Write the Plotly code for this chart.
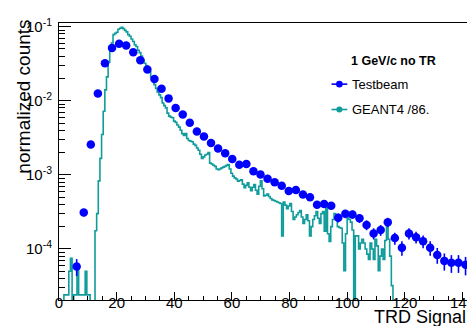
import plotly.graph_objects as go

# ---------------- data ----------------
# Testbeam points (bin centres, normalized counts, errors)
tb_x = [6.13, 8.59, 11.04, 13.49, 15.95, 18.40, 20.85, 23.30, 25.76, 28.21,
        30.66, 33.12, 35.57, 38.02, 40.47, 42.93, 45.38, 47.83, 50.29, 52.74,
        55.19, 57.65, 60.10, 62.55, 65.00, 67.46, 69.91, 72.36, 74.82, 77.27,
        79.72, 82.18, 84.63, 87.08, 89.53, 91.99, 94.44, 96.89, 99.35, 101.80,
        104.25, 106.71, 109.16, 111.61, 114.06, 116.52, 118.97, 121.42, 123.88, 126.33,
        128.78, 131.24, 133.69, 136.14, 138.60, 141.05]
tb_y = [5.8e-5, 3.1e-4, 2.56e-3, 0.0125, 0.032, 0.0514, 0.0587, 0.0557, 0.0451, 0.0351,
        0.0264, 0.0197, 0.01456, 0.01076, 8.0e-3, 6.5e-3, 5.04e-3, 3.84e-3, 3.3e-3, 2.69e-3,
        2.26e-3, 1.95e-3, 1.64e-3, 1.37e-3, 1.40e-3, 1.12e-3, 1.01e-3, 8.86e-4, 7.94e-4, 7.1e-4,
        6.05e-4, 6.24e-4, 5.41e-4, 4.97e-4, 3.96e-4, 4.03e-4, 3.84e-4, 2.64e-4, 2.98e-4, 2.92e-4,
        2.59e-4, 2.11e-4, 1.62e-4, 1.80e-4, 2.30e-4, 1.40e-4, 1.04e-4, 1.62e-4, 1.44e-4, 1.27e-4,
        1.04e-4, 8.3e-5, 6.9e-5, 6.5e-5, 6.5e-5, 6.1e-5]
tb_err = [1.5e-5, 3.5e-5, 1.0e-4, 2.5e-4, 4.0e-4, 5.0e-4, 5.4e-4, 5.2e-4, 4.7e-4, 4.2e-4,
          3.6e-4, 3.1e-4, 2.7e-4, 2.3e-4, 2.0e-4, 1.8e-4, 1.6e-4, 1.4e-4, 1.3e-4, 1.15e-4,
          1.05e-4, 9.8e-5, 9.0e-5, 8.2e-5, 8.3e-5, 7.4e-5, 7.0e-5, 6.6e-5, 6.2e-5, 5.9e-5,
          5.4e-5, 5.5e-5, 5.1e-5, 4.9e-5, 4.4e-5, 4.4e-5, 4.3e-5, 3.6e-5, 3.8e-5, 3.7e-5,
          3.5e-5, 3.2e-5, 2.8e-5, 3.0e-5, 3.3e-5, 2.6e-5, 2.3e-5, 2.8e-5, 2.6e-5, 2.5e-5,
          2.3e-5, 2.0e-5, 1.8e-5, 1.75e-5, 1.75e-5, 1.7e-5]

# GEANT4 histogram (scaled /86), fixed-width bins starting at 0
g4_bin_width = 0.568
g4_counts = [
    0, 0, 0, 2.4e-5, 2.4e-5, 2.4e-5, 5e-5, 7.5e-5, 0, 2.4e-5,
    2.4e-5, 6e-5, 2.4e-5, 2.4e-5, 2.4e-5, 2.4e-5, 5e-5, 2.4e-5, 2.4e-5, 0,
    0, 0, 1.76e-4, 3.0e-4, 8.3e-4, 1.67e-3, 3.5e-3, 7.2e-3, 0.014, 0.021,
    0.033, 0.047, 0.060, 0.078, 0.081, 0.084, 0.092, 0.095, 0.098, 0.094,
    0.089, 0.085, 0.078, 0.074, 0.068, 0.063, 0.057, 0.054, 0.048, 0.0446,
    0.040, 0.036, 0.032, 0.0298, 0.027, 0.0244, 0.021, 0.019, 0.0165, 0.0147,
    0.013, 0.012, 0.011, 9.3e-3, 8.6e-3, 8.0e-3, 6.8e-3, 6.2e-3, 6.0e-3, 5.9e-3,
    5.3e-3, 5.1e-3, 4.7e-3, 4.4e-3, 4.0e-3, 3.6e-3, 3.4e-3, 3.6e-3, 3.1e-3, 2.9e-3,
    2.85e-3, 2.8e-3, 2.6e-3, 2.5e-3, 2.3e-3, 2.15e-3, 1.9e-3, 1.66e-3, 1.75e-3, 1.85e-3,
    1.9e-3, 2.0e-3, 1.44e-3, 1.4e-3, 1.35e-3, 1.3e-3, 1.2e-3, 1.17e-3, 1.2e-3, 1.24e-3,
    1.27e-3, 1.3e-3, 1.34e-3, 1.38e-3, 1.2e-3, 1.05e-3, 9.6e-4, 9.1e-4, 8.8e-4, 8.2e-4,
    8.4e-4, 8.6e-4, 7.5e-4, 6.7e-4, 7.2e-4, 7.8e-4, 6.8e-4, 6.1e-4, 6.8e-4, 7.4e-4,
    6.2e-4, 5.5e-4, 7.0e-4, 8.3e-4, 6.5e-4, 5.2e-4, 5.3e-4, 5.5e-4, 5.1e-4, 4.8e-4,
    4.6e-4, 4.5e-4, 4.4e-4, 4.3e-4, 4.2e-4, 4.1e-4, 1.5e-4, 4.3e-4, 3.9e-4, 3.5e-4,
    3.8e-4, 4.1e-4, 3.2e-4, 2.5e-4, 2.7e-4, 2.9e-4, 3.1e-4, 3.3e-4, 2.7e-4, 2.2e-4,
    2.5e-4, 2.9e-4, 2.4e-4, 1.5e-4, 2.0e-4, 2.5e-4, 2.8e-4, 3.2e-4, 2.6e-4, 2.2e-4,
    3.0e-4, 3.2e-4, 1.74e-4, 3.7e-4, 1.6e-4, 1.26e-4, 2.0e-4, 2.5e-4, 3.0e-4, 2.6e-4,
    2.0e-4, 1.95e-4, 1.9e-4, 1.2e-4, 5.1e-5, 1.6e-4, 2.7e-4, 2.5e-4, 2.3e-4, 1.8e-4,
    0, 1.5e-4, 1.5e-4, 1.0e-4, 1.2e-4, 1.35e-4, 1.2e-4, 1.0e-4, 8.5e-5, 7.2e-5,
    1.2e-4, 1.0e-4, 7.2e-5, 1.35e-4, 1.1e-4, 5.1e-5, 8e-5, 1.0e-4, 7.2e-5, 1.3e-4,
    2.1e-4, 1.35e-4, 8e-5, 3.2e-5, 0,
]

x_ticks = [0, 20, 40, 60, 80, 100, 120, 140]
y_ticks = [1e-4, 1e-3, 1e-2, 1e-1]
y_ticktext = ["10<sup>-4</sup>", "10<sup>-3</sup>", "10<sup>-2</sup>", "10<sup>-1</sup>"]

# ---------------- styling ----------------
BLUE = "#0000ff"
TEAL = "#119c9c"
FONT = "Liberation Sans"
EMPTY = 1e-7  # stand-in for empty bins on the log axis (drawn below the frame)

W, H = 475, 326
L, R, T, B = 51, 9, 8, 34
PW, PH = W - L - R, H - T - B


def px(xp):
    return (xp - L) / PW


def py(yp):
    return (H - B - yp) / PH


g4_edges = [i * g4_bin_width for i in range(len(g4_counts) + 1)]
g4_plot = [v if v > 0 else EMPTY for v in g4_counts] + [EMPTY]

fig = go.Figure()
fig.add_trace(go.Scatter(
    x=g4_edges, y=g4_plot, mode="lines", line=dict(color=TEAL, width=1.6, shape="hv"),
    showlegend=False, hoverinfo="skip"))
fig.add_trace(go.Scatter(
    x=tb_x, y=tb_y, mode="markers",
    marker=dict(color=BLUE, size=8.5, line=dict(width=0)),
    error_y=dict(type="data", array=tb_err, color=BLUE, thickness=1.6, width=0),
    showlegend=False))

minor_y = [k * 10 ** d for d in range(-5, 0) for k in range(2, 10)]

fig.update_xaxes(
    range=[0, 141.9], tickvals=x_ticks, ticks="inside", ticklen=8, tickwidth=1,
    tickcolor="black", showline=True, linecolor="black", linewidth=1, mirror=True,
    showgrid=False, zeroline=False, ticklabelstandoff=-11,
    tickfont=dict(family=FONT, size=15, color="black"),
    minor=dict(dtick=5, tick0=0, ticks="inside", ticklen=4.5, tickcolor="black", showgrid=False))
fig.update_yaxes(
    type="log", range=[-4.689, -0.951], tickvals=y_ticks, ticktext=y_ticktext,
    ticks="inside", ticklen=12, tickwidth=1, tickcolor="black",
    showline=True, linecolor="black", linewidth=1, mirror=True,
    showgrid=False, zeroline=False, ticklabelstandoff=3,
    tickfont=dict(family=FONT, size=15, color="black"),
    minor=dict(tickvals=minor_y, ticks="inside", ticklen=6, tickcolor="black", showgrid=False))

annotations = [
    dict(text="TRD Signal", xref="paper", yref="paper", x=1.0, y=py(309), xanchor="right",
         yanchor="middle", showarrow=False, font=dict(family=FONT, size=18, color="black")),
    dict(text="normalized counts", xref="paper", yref="paper", x=px(15), y=py(3),
         xanchor="center", yanchor="top", textangle=-90, showarrow=False,
         font=dict(family=FONT, size=19, color="black")),
    dict(text="<b>1 GeV/c no TR</b>", xref="paper", yref="paper", x=px(390), y=py(46.5),
         xanchor="center", yanchor="middle", showarrow=False,
         font=dict(family=FONT, size=12.5, color="black")),
    dict(text="Testbeam", xref="paper", yref="paper", x=px(346), y=py(70.7),
         xanchor="left", yanchor="middle", showarrow=False,
         font=dict(family=FONT, size=13, color="black")),
    dict(text="GEANT4 /86.", xref="paper", yref="paper", x=px(346), y=py(96.7),
         xanchor="left", yanchor="middle", showarrow=False,
         font=dict(family=FONT, size=13, color="black")),
]

shapes = []
for ycen, col, r in [(70.7, BLUE, 3.3), (96.7, TEAL, 3.0)]:
    shapes.append(dict(type="line", xref="paper", yref="paper", x0=px(327.5), x1=px(343.5),
                       y0=py(ycen), y1=py(ycen), line=dict(color=col, width=1.6)))
    shapes.append(dict(type="circle", xref="paper", yref="paper", xsizemode="pixel",
                       ysizemode="pixel", xanchor=px(335.5), yanchor=py(ycen),
                       x0=-r, x1=r, y0=-r, y1=r, fillcolor=col, line=dict(color=col, width=0)))

fig.update_layout(
    width=W, height=H, margin=dict(l=L, r=R, t=T, b=B, pad=0),
    paper_bgcolor="white", plot_bgcolor="white",
    annotations=annotations, shapes=shapes, showlegend=False,
    font=dict(family=FONT, color="black"))

fig.write_html("out.html")
